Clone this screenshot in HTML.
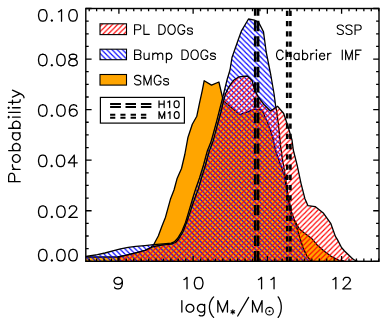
<!DOCTYPE html>
<html lang="en"><head><meta charset="utf-8"><title>Stellar mass probability distributions</title>
<style>
html,body{margin:0;padding:0;background:#fff;}
svg{display:block;font-family:"Liberation Sans",sans-serif;}
.t{fill:none;stroke:#000;stroke-linecap:round;stroke-linejoin:round;}
</style></head><body>
<svg width="390" height="325" viewBox="0 0 390 325" role="img" aria-label="Probability versus log(M*/Msun) for PL DOGs, Bump DOGs and SMGs; SSP, Chabrier IMF; H10 and M10 reference lines">
<desc>Probability (0.00 to 0.10) versus log(M*/M_sun) (9 to 12). Legend: PL DOGs, Bump DOGs, SMGs, H10, M10. SSP, Chabrier IMF.</desc>
<defs>
<pattern id="hr" x="0.76" y="0.0" width="5.17" height="5.17" patternUnits="userSpaceOnUse"><path d="M-5.17,10.34L10.34,-5.17M-5.17,5.17L5.17,-5.17M0,10.34L10.34,0" stroke="#ff0000" stroke-width="1.15" fill="none"/></pattern>
<pattern id="hb" x="0.8" y="0.0" width="5.2" height="5.2" patternUnits="userSpaceOnUse"><path d="M-5.2,-5.2L10.4,10.4M0,-5.2L10.4,5.2M-5.2,0L5.2,10.4" stroke="#0000ff" stroke-width="1.15" fill="none"/></pattern>
<pattern id="hrl" x="1.0" y="0.0" width="5.23" height="5.23" patternUnits="userSpaceOnUse"><path d="M-5.23,10.46L10.46,-5.23M-5.23,5.23L5.23,-5.23M0,10.46L10.46,0" stroke="#ff0000" stroke-width="1.15" fill="none"/></pattern>
<pattern id="hbl" x="4.8" y="0.0" width="5.23" height="5.23" patternUnits="userSpaceOnUse"><path d="M-5.23,-5.23L10.46,10.46M0,-5.23L10.46,5.23M-5.23,0L5.23,10.46" stroke="#0000ff" stroke-width="1.15" fill="none"/></pattern>
</defs>
<rect x="0" y="0" width="390" height="325" fill="#ffffff"/>
<polygon points="85.8,261.3 85.8,257.0 118.0,257.0 125.5,255.4 135.8,252.8 145.0,250.3 150.0,248.0 153.5,245.0 158.3,236.0 162.0,226.0 165.5,217.2 170.6,198.7 174.0,190.0 177.2,178.2 181.5,168.5 184.8,154.5 188.0,137.2 192.3,124.3 196.8,116.2 199.5,103.2 202.3,90.3 204.2,80.7 211.5,85.1 218.9,82.0 223.3,100.8 240.0,114.7 254.7,109.2 262.0,110.0 267.3,121.7 272.4,136.0 276.0,152.0 284.4,175.6 288.2,201.0 292.0,219.0 294.8,220.7 299.4,229.0 304.0,232.7 311.4,238.2 316.9,244.7 324.3,251.2 331.7,256.7 339.0,260.4 344.0,260.9 344.0,261.3" fill="#ffa500"/>
<polyline points="85.8,257.0 118.0,257.0 125.5,255.4 135.8,252.8 145.0,250.3 150.0,248.0 153.5,245.0 158.3,236.0 162.0,226.0 165.5,217.2 170.6,198.7 174.0,190.0 177.2,178.2 181.5,168.5 184.8,154.5 188.0,137.2 192.3,124.3 196.8,116.2 199.5,103.2 202.3,90.3 204.2,80.7 211.5,85.1 218.9,82.0 223.3,100.8 240.0,114.7 254.7,109.2 262.0,110.0 267.3,121.7 272.4,136.0 276.0,152.0 284.4,175.6 288.2,201.0 292.0,219.0 294.8,220.7 299.4,229.0 304.0,232.7 311.4,238.2 316.9,244.7 324.3,251.2 331.7,256.7 339.0,260.4 344.0,260.9" fill="none" stroke="#000" stroke-width="1.3" stroke-linejoin="round"/>
<polygon points="85.8,261.3 85.8,256.5 97.4,254.7 105.0,253.0 112.8,250.8 120.5,248.8 128.2,247.4 135.8,246.4 145.0,245.6 153.5,244.7 163.5,243.9 171.2,243.2 174.2,241.9 177.7,238.3 182.0,231.1 185.5,222.5 188.1,213.9 190.7,205.2 193.2,196.6 195.8,188.5 199.5,178.0 203.5,165.0 207.3,151.0 211.0,141.8 213.8,131.7 216.6,121.5 219.4,110.5 221.8,101.2 223.7,93.5 227.2,79.2 230.0,70.0 232.0,57.5 238.5,39.0 241.5,30.8 248.5,19.0 254.4,20.1 258.5,22.0 263.5,31.9 264.6,40.0 266.2,52.0 270.8,75.0 274.0,93.5 275.5,105.0 276.8,112.0 278.6,125.8 280.6,146.3 282.7,160.6 284.4,170.5 288.2,196.0 291.5,212.0 295.7,223.5 299.4,236.4 303.0,247.5 306.8,255.8 310.5,260.4 312.0,260.9 312.0,261.3" fill="url(#hb)"/>
<polyline points="85.8,256.5 97.4,254.7 105.0,253.0 112.8,250.8 120.5,248.8 128.2,247.4 135.8,246.4 145.0,245.6 153.5,244.7 163.5,243.9 171.2,243.2 174.2,241.9 177.7,238.3 182.0,231.1 185.5,222.5 188.1,213.9 190.7,205.2 193.2,196.6 195.8,188.5 199.5,178.0 203.5,165.0 207.3,151.0 211.0,141.8 213.8,131.7 216.6,121.5 219.4,110.5 221.8,101.2 223.7,93.5 227.2,79.2 230.0,70.0 232.0,57.5 238.5,39.0 241.5,30.8 248.5,19.0 254.4,20.1 258.5,22.0 263.5,31.9 264.6,40.0 266.2,52.0 270.8,75.0 274.0,93.5 275.5,105.0 276.8,112.0 278.6,125.8 280.6,146.3 282.7,160.6 284.4,170.5 288.2,196.0 291.5,212.0 295.7,223.5 299.4,236.4 303.0,247.5 306.8,255.8 310.5,260.4 312.0,260.9" fill="none" stroke="#000" stroke-width="1.3" stroke-linejoin="round"/>
<polygon points="118.0,261.3 118.0,260.9 118.0,257.0 125.5,255.4 135.8,252.8 145.0,250.3 153.5,246.5 163.5,244.9 171.2,244.2 175.5,242.5 178.6,239.2 182.9,232.0 186.3,223.3 189.0,215.6 191.8,207.0 194.8,198.3 198.3,189.0 201.5,178.0 205.5,165.0 209.3,151.0 212.9,141.8 215.6,131.7 218.4,121.5 221.0,112.0 222.8,104.0 225.4,94.0 229.0,86.6 233.7,80.2 239.0,76.8 247.3,76.0 252.0,80.5 254.7,89.8 258.4,97.2 264.0,104.5 270.4,111.0 277.7,106.3 283.7,113.5 287.8,125.8 292.0,140.0 293.3,150.0 297.2,165.4 301.0,183.3 304.9,198.7 308.0,205.7 315.1,206.6 323.6,213.3 330.7,223.3 335.4,236.4 337.7,240.1 341.5,247.5 344.5,251.0 351.5,257.8 353.5,259.5 357.5,261.3 357.5,261.3" fill="url(#hr)"/>
<polyline points="118.0,260.9 118.0,257.0 125.5,255.4 135.8,252.8 145.0,250.3 153.5,246.5 163.5,244.9 171.2,244.2 175.5,242.5 178.6,239.2 182.9,232.0 186.3,223.3 189.0,215.6 191.8,207.0 194.8,198.3 198.3,189.0 201.5,178.0 205.5,165.0 209.3,151.0 212.9,141.8 215.6,131.7 218.4,121.5 221.0,112.0 222.8,104.0 225.4,94.0 229.0,86.6 233.7,80.2 239.0,76.8 247.3,76.0 252.0,80.5 254.7,89.8 258.4,97.2 264.0,104.5 270.4,111.0 277.7,106.3 283.7,113.5 287.8,125.8 292.0,140.0 293.3,150.0 297.2,165.4 301.0,183.3 304.9,198.7 308.0,205.7 315.1,206.6 323.6,213.3 330.7,223.3 335.4,236.4 337.7,240.1 341.5,247.5 344.5,251.0 351.5,257.8 353.5,259.5 357.5,261.3" fill="none" stroke="#000" stroke-width="1.3" stroke-linejoin="round"/>
<line x1="255.2" y1="8.5" x2="255.2" y2="261.3" stroke="#000" stroke-width="2.6" stroke-dasharray="10.34 5.0" stroke-dashoffset="3.04"/>
<line x1="258.1" y1="8.5" x2="258.1" y2="261.3" stroke="#000" stroke-width="2.6" stroke-dasharray="10.34 5.0" stroke-dashoffset="3.04"/>
<line x1="287.2" y1="8.5" x2="287.2" y2="261.3" stroke="#000" stroke-width="2.6" stroke-dasharray="5.2 5.05" stroke-dashoffset="7.95"/>
<line x1="290.4" y1="8.5" x2="290.4" y2="261.3" stroke="#000" stroke-width="2.6" stroke-dasharray="5.2 5.05" stroke-dashoffset="7.95"/>
<rect x="85.8" y="8.5" width="293.2" height="252.8" fill="none" stroke="#000" stroke-width="1.4"/>
<path d="M89.21,8.5v2.7M89.21,261.3v-2.7M96.63,8.5v2.7M96.63,261.3v-2.7M104.06,8.5v2.7M104.06,261.3v-2.7M111.48,8.5v2.7M111.48,261.3v-2.7M118.90,8.5v5.2M118.90,261.3v-5.2M126.33,8.5v2.7M126.33,261.3v-2.7M133.75,8.5v2.7M133.75,261.3v-2.7M141.17,8.5v2.7M141.17,261.3v-2.7M148.59,8.5v2.7M148.59,261.3v-2.7M156.02,8.5v2.7M156.02,261.3v-2.7M163.44,8.5v2.7M163.44,261.3v-2.7M170.86,8.5v2.7M170.86,261.3v-2.7M178.28,8.5v2.7M178.28,261.3v-2.7M185.71,8.5v2.7M185.71,261.3v-2.7M193.13,8.5v5.2M193.13,261.3v-5.2M200.55,8.5v2.7M200.55,261.3v-2.7M207.98,8.5v2.7M207.98,261.3v-2.7M215.40,8.5v2.7M215.40,261.3v-2.7M222.82,8.5v2.7M222.82,261.3v-2.7M230.24,8.5v2.7M230.24,261.3v-2.7M237.67,8.5v2.7M237.67,261.3v-2.7M245.09,8.5v2.7M245.09,261.3v-2.7M252.51,8.5v2.7M252.51,261.3v-2.7M259.94,8.5v2.7M259.94,261.3v-2.7M267.36,8.5v5.2M267.36,261.3v-5.2M274.78,8.5v2.7M274.78,261.3v-2.7M282.20,8.5v2.7M282.20,261.3v-2.7M289.63,8.5v2.7M289.63,261.3v-2.7M297.05,8.5v2.7M297.05,261.3v-2.7M304.47,8.5v2.7M304.47,261.3v-2.7M311.89,8.5v2.7M311.89,261.3v-2.7M319.32,8.5v2.7M319.32,261.3v-2.7M326.74,8.5v2.7M326.74,261.3v-2.7M334.16,8.5v2.7M334.16,261.3v-2.7M341.59,8.5v5.2M341.59,261.3v-5.2M349.01,8.5v2.7M349.01,261.3v-2.7M356.43,8.5v2.7M356.43,261.3v-2.7M363.85,8.5v2.7M363.85,261.3v-2.7M371.28,8.5v2.7M371.28,261.3v-2.7M378.70,8.5v2.7M378.70,261.3v-2.7M85.8,261.30h5.8M379.0,261.30h-5.8M85.8,248.66h2.9M379.0,248.66h-2.9M85.8,236.02h2.9M379.0,236.02h-2.9M85.8,223.38h2.9M379.0,223.38h-2.9M85.8,210.74h5.8M379.0,210.74h-5.8M85.8,198.10h2.9M379.0,198.10h-2.9M85.8,185.46h2.9M379.0,185.46h-2.9M85.8,172.82h2.9M379.0,172.82h-2.9M85.8,160.18h5.8M379.0,160.18h-5.8M85.8,147.54h2.9M379.0,147.54h-2.9M85.8,134.90h2.9M379.0,134.90h-2.9M85.8,122.26h2.9M379.0,122.26h-2.9M85.8,109.62h5.8M379.0,109.62h-5.8M85.8,96.98h2.9M379.0,96.98h-2.9M85.8,84.34h2.9M379.0,84.34h-2.9M85.8,71.70h2.9M379.0,71.70h-2.9M85.8,59.06h5.8M379.0,59.06h-5.8M85.8,46.42h2.9M379.0,46.42h-2.9M85.8,33.78h2.9M379.0,33.78h-2.9M85.8,21.14h2.9M379.0,21.14h-2.9M85.8,8.50h5.8M379.0,8.50h-5.8" stroke="#000" stroke-width="1.3" fill="none"/>
<path class="t" d="M42.18,9.65L40.36,10.20L39.15,11.84L38.55,14.58L38.55,16.22L39.15,18.96L40.36,20.60L42.18,21.15L43.39,21.15L45.20,20.60L46.41,18.96L47.02,16.22L47.02,14.58L46.41,11.84L45.20,10.20L43.39,9.65L42.18,9.65M51.85,20.05L51.25,20.60L51.85,21.15L52.46,20.60L51.85,20.05M58.50,11.84L59.71,11.29L61.53,9.65L61.53,21.15M72.41,9.65L70.60,10.20L69.39,11.84L68.78,14.58L68.78,16.22L69.39,18.96L70.60,20.60L72.41,21.15L73.62,21.15L75.44,20.60L76.65,18.96L77.25,16.22L77.25,14.58L76.65,11.84L75.44,10.20L73.62,9.65L72.41,9.65M42.18,54.25L40.36,54.80L39.15,56.44L38.55,59.18L38.55,60.82L39.15,63.56L40.36,65.20L42.18,65.75L43.39,65.75L45.20,65.20L46.41,63.56L47.02,60.82L47.02,59.18L46.41,56.44L45.20,54.80L43.39,54.25L42.18,54.25M51.85,64.65L51.25,65.20L51.85,65.75L52.46,65.20L51.85,64.65M60.32,54.25L58.50,54.80L57.30,56.44L56.69,59.18L56.69,60.82L57.30,63.56L58.50,65.20L60.32,65.75L61.53,65.75L63.34,65.20L64.55,63.56L65.16,60.82L65.16,59.18L64.55,56.44L63.34,54.80L61.53,54.25L60.32,54.25M71.81,54.25L69.99,54.80L69.39,55.89L69.39,56.99L69.99,58.08L71.20,58.63L73.62,59.18L75.44,59.73L76.65,60.82L77.25,61.92L77.25,63.56L76.65,64.65L76.04,65.20L74.23,65.75L71.81,65.75L69.99,65.20L69.39,64.65L68.78,63.56L68.78,61.92L69.39,60.82L70.60,59.73L72.41,59.18L74.83,58.63L76.04,58.08L76.65,56.99L76.65,55.89L76.04,54.80L74.23,54.25L71.81,54.25M42.18,104.75L40.36,105.30L39.15,106.94L38.55,109.68L38.55,111.32L39.15,114.06L40.36,115.70L42.18,116.25L43.39,116.25L45.20,115.70L46.41,114.06L47.02,111.32L47.02,109.68L46.41,106.94L45.20,105.30L43.39,104.75L42.18,104.75M51.85,115.15L51.25,115.70L51.85,116.25L52.46,115.70L51.85,115.15M60.32,104.75L58.50,105.30L57.30,106.94L56.69,109.68L56.69,111.32L57.30,114.06L58.50,115.70L60.32,116.25L61.53,116.25L63.34,115.70L64.55,114.06L65.16,111.32L65.16,109.68L64.55,106.94L63.34,105.30L61.53,104.75L60.32,104.75M76.65,106.39L76.04,105.30L74.23,104.75L73.02,104.75L71.20,105.30L69.99,106.94L69.39,109.68L69.39,112.42L69.99,114.61L71.20,115.70L73.02,116.25L73.62,116.25L75.44,115.70L76.65,114.61L77.25,112.96L77.25,112.42L76.65,110.77L75.44,109.68L73.62,109.13L73.02,109.13L71.20,109.68L69.99,110.77L69.39,112.42M42.12,155.15L40.34,155.70L39.15,157.34L38.55,160.08L38.55,161.72L39.15,164.46L40.34,166.10L42.12,166.65L43.31,166.65L45.10,166.10L46.29,164.46L46.89,161.72L46.89,160.08L46.29,157.34L45.10,155.70L43.31,155.15L42.12,155.15M51.65,165.55L51.05,166.10L51.65,166.65L52.24,166.10L51.65,165.55M59.98,155.15L58.20,155.70L57.01,157.34L56.41,160.08L56.41,161.72L57.01,164.46L58.20,166.10L59.98,166.65L61.17,166.65L62.96,166.10L64.15,164.46L64.75,161.72L64.75,160.08L64.15,157.34L62.96,155.70L61.17,155.15L59.98,155.15M74.27,155.15L68.32,162.82L77.25,162.82M74.27,155.15L74.27,166.65M42.18,205.95L40.36,206.50L39.15,208.14L38.55,210.88L38.55,212.52L39.15,215.26L40.36,216.90L42.18,217.45L43.39,217.45L45.20,216.90L46.41,215.26L47.02,212.52L47.02,210.88L46.41,208.14L45.20,206.50L43.39,205.95L42.18,205.95M51.85,216.35L51.25,216.90L51.85,217.45L52.46,216.90L51.85,216.35M60.32,205.95L58.50,206.50L57.30,208.14L56.69,210.88L56.69,212.52L57.30,215.26L58.50,216.90L60.32,217.45L61.53,217.45L63.34,216.90L64.55,215.26L65.16,212.52L65.16,210.88L64.55,208.14L63.34,206.50L61.53,205.95L60.32,205.95M69.39,208.69L69.39,208.14L69.99,207.05L70.60,206.50L71.81,205.95L74.23,205.95L75.44,206.50L76.04,207.05L76.65,208.14L76.65,209.24L76.04,210.33L74.83,211.97L68.78,217.45L77.25,217.45M42.18,249.45L40.36,250.00L39.15,251.64L38.55,254.38L38.55,256.02L39.15,258.76L40.36,260.40L42.18,260.95L43.39,260.95L45.20,260.40L46.41,258.76L47.02,256.02L47.02,254.38L46.41,251.64L45.20,250.00L43.39,249.45L42.18,249.45M51.85,259.85L51.25,260.40L51.85,260.95L52.46,260.40L51.85,259.85M60.32,249.45L58.50,250.00L57.30,251.64L56.69,254.38L56.69,256.02L57.30,258.76L58.50,260.40L60.32,260.95L61.53,260.95L63.34,260.40L64.55,258.76L65.16,256.02L65.16,254.38L64.55,251.64L63.34,250.00L61.53,249.45L60.32,249.45M72.41,249.45L70.60,250.00L69.39,251.64L68.78,254.38L68.78,256.02L69.39,258.76L70.60,260.40L72.41,260.95L73.62,260.95L75.44,260.40L76.65,258.76L77.25,256.02L77.25,254.38L76.65,251.64L75.44,250.00L73.62,249.45L72.41,249.45M122.35,281.18L121.70,282.83L120.41,283.92L118.47,284.47L117.83,284.47L115.89,283.92L114.60,282.83L113.95,281.18L113.95,280.64L114.60,278.99L115.89,277.90L117.83,277.35L118.47,277.35L120.41,277.90L121.70,278.99L122.35,281.18L122.35,283.92L121.70,286.66L120.41,288.30L118.47,288.85L117.18,288.85L115.24,288.30L114.60,287.21M183.95,279.54L185.18,278.99L187.01,277.35L187.01,288.85M198.05,277.35L196.21,277.90L194.98,279.54L194.37,282.28L194.37,283.92L194.98,286.66L196.21,288.30L198.05,288.85L199.27,288.85L201.11,288.30L202.34,286.66L202.95,283.92L202.95,282.28L202.34,279.54L201.11,277.90L199.27,277.35L198.05,277.35M258.45,279.54L259.70,278.99L261.57,277.35L261.57,288.85M270.93,279.54L272.18,278.99L274.05,277.35L274.05,288.85M332.95,279.54L334.10,278.99L335.84,277.35L335.84,288.85M343.34,280.09L343.34,279.54L343.92,278.45L344.50,277.90L345.65,277.35L347.96,277.35L349.12,277.90L349.70,278.45L350.27,279.54L350.27,280.64L349.70,281.73L348.54,283.37L342.77,288.85L350.85,288.85" stroke-width="1.3" />
<path class="t" d="M0.65,-11.50L0.65,0.00M0.65,-11.50L5.93,-11.50L7.69,-10.95L8.28,-10.40L8.86,-9.31L8.86,-7.67L8.28,-6.57L7.69,-6.02L5.93,-5.48L0.65,-5.48M12.97,-7.67L12.97,0.00M12.97,-4.38L13.55,-6.02L14.73,-7.12L15.90,-7.67L17.66,-7.67M22.94,-7.67L21.77,-7.12L20.59,-6.02L20.01,-4.38L20.01,-3.29L20.59,-1.64L21.77,-0.55L22.94,0.00L24.70,0.00L25.87,-0.55L27.04,-1.64L27.63,-3.29L27.63,-4.38L27.04,-6.02L25.87,-7.12L24.70,-7.67L22.94,-7.67M31.74,-11.50L31.74,0.00M31.74,-6.02L32.91,-7.12L34.08,-7.67L35.84,-7.67L37.02,-7.12L38.19,-6.02L38.78,-4.38L38.78,-3.29L38.19,-1.64L37.02,-0.55L35.84,0.00L34.08,0.00L32.91,-0.55L31.74,-1.64M49.33,-7.67L49.33,0.00M49.33,-6.02L48.16,-7.12L46.99,-7.67L45.23,-7.67L44.05,-7.12L42.88,-6.02L42.29,-4.38L42.29,-3.29L42.88,-1.64L44.05,-0.55L45.23,0.00L46.99,0.00L48.16,-0.55L49.33,-1.64M54.03,-11.50L54.03,0.00M54.03,-6.02L55.20,-7.12L56.37,-7.67L58.13,-7.67L59.30,-7.12L60.48,-6.02L61.06,-4.38L61.06,-3.29L60.48,-1.64L59.30,-0.55L58.13,0.00L56.37,0.00L55.20,-0.55L54.03,-1.64M64.58,-11.50L65.17,-10.95L65.76,-11.50L65.17,-12.05L64.58,-11.50M65.17,-7.67L65.17,0.00M69.86,-11.50L69.86,0.00M73.97,-11.50L74.55,-10.95L75.14,-11.50L74.55,-12.05L73.97,-11.50M74.55,-7.67L74.55,0.00M79.83,-11.50L79.83,-2.19L80.42,-0.55L81.59,0.00L82.77,0.00M78.07,-7.67L82.18,-7.67M85.11,-7.67L88.63,0.00M92.15,-7.67L88.63,0.00L87.46,2.19L86.28,3.29L85.11,3.83L84.53,3.83" stroke-width="1.3" transform="translate(20.15,182.3) rotate(-90)"/>
<path class="t" d="M181.85,300.55L181.85,312.05M189.05,304.38L187.85,304.93L186.65,306.03L186.05,307.67L186.05,308.76L186.65,310.41L187.85,311.50L189.05,312.05L190.85,312.05L192.05,311.50L193.25,310.41L193.85,308.76L193.85,307.67L193.25,306.03L192.05,304.93L190.85,304.38L189.05,304.38M204.65,304.38L204.65,313.15L204.05,314.79L203.45,315.34L202.25,315.88L200.45,315.88L199.25,315.34M204.65,306.03L203.45,304.93L202.25,304.38L200.45,304.38L199.25,304.93L198.05,306.03L197.45,307.67L197.45,308.76L198.05,310.41L199.25,311.50L200.45,312.05L202.25,312.05L203.45,311.50L204.65,310.41M213.65,296.87L212.45,298.15L211.25,300.07L210.05,302.64L209.45,305.84L209.45,308.40L210.05,311.61L211.25,314.17L212.45,316.09L213.65,317.37M217.85,300.55L217.85,312.05M217.85,300.55L222.65,312.05M227.45,300.55L222.65,312.05M227.45,300.55L227.45,312.05M237.7,316.0L248.6,297.4M252.55,300.55L252.55,312.05M252.55,300.55L257.30,312.05M262.05,300.55L257.30,312.05M262.05,300.55L262.05,312.05M278.15,296.87L279.04,298.15L279.92,300.07L280.81,302.64L281.25,305.84L281.25,308.40L280.81,311.61L279.92,314.17L279.04,316.09L278.15,317.37" stroke-width="1.3" />
<path class="t" d="M232.80,309.74L232.80,314.06M231.00,310.82L234.60,312.98M234.60,310.82L231.00,312.98" stroke-width="1.1" />
<circle cx="269.5" cy="311.2" r="3.8" fill="none" stroke="#000" stroke-width="1.15"/><circle cx="269.5" cy="311.2" r="1.0" fill="#000"/>
<rect x="100.0" y="23.8" width="26.5" height="10.8" fill="url(#hrl)" stroke="#000" stroke-width="1.1"/>
<rect x="100.0" y="49.2" width="26.5" height="10.5" fill="url(#hbl)" stroke="#000" stroke-width="1.1"/>
<rect x="100.0" y="74.5" width="26.5" height="10.6" fill="#ffa500" stroke="#000" stroke-width="1.1"/>
<path class="t" d="M134.57,24.77L134.57,34.32M134.57,24.77L138.60,24.77L139.94,25.23L140.39,25.68L140.83,26.59L140.83,27.96L140.39,28.87L139.94,29.32L138.60,29.78L134.57,29.78M143.96,24.77L143.96,34.32M143.96,34.32L149.33,34.32M158.88,24.77L158.88,34.32M158.88,24.77L162.05,24.77L163.41,25.23L164.32,26.14L164.77,27.05L165.22,28.41L165.22,30.69L164.77,32.05L164.32,32.96L163.41,33.87L162.05,34.32L158.88,34.32M170.66,24.77L169.76,25.23L168.85,26.14L168.40,27.05L167.94,28.41L167.94,30.69L168.40,32.05L168.85,32.96L169.76,33.87L170.66,34.32L172.48,34.32L173.38,33.87L174.29,32.96L174.74,32.05L175.20,30.69L175.20,28.41L174.74,27.05L174.29,26.14L173.38,25.23L172.48,24.77L170.66,24.77M184.72,27.05L184.26,26.14L183.36,25.23L182.45,24.77L180.64,24.77L179.73,25.23L178.82,26.14L178.37,27.05L177.92,28.41L177.92,30.69L178.37,32.05L178.82,32.96L179.73,33.87L180.64,34.32L182.45,34.32L183.36,33.87L184.26,32.96L184.72,32.05L184.72,30.69M182.45,30.69L184.72,30.69M192.43,29.32L191.97,28.41L190.61,27.96L189.25,27.96L187.89,28.41L187.44,29.32L187.89,30.23L188.80,30.69L191.06,31.14L191.97,31.60L192.43,32.51L192.43,32.96L191.97,33.87L190.61,34.32L189.25,34.32L187.89,33.87L187.44,32.96M134.57,49.98L134.57,59.52M134.57,49.98L138.66,49.98L140.03,50.43L140.48,50.88L140.93,51.79L140.93,52.70L140.48,53.61L140.03,54.07L138.66,54.52M134.57,54.52L138.66,54.52L140.03,54.98L140.48,55.43L140.93,56.34L140.93,57.71L140.48,58.62L140.03,59.07L138.66,59.52L134.57,59.52M144.11,53.16L144.11,57.71L144.57,59.07L145.48,59.52L146.84,59.52L147.75,59.07L149.11,57.71M149.11,53.16L149.11,59.52M152.75,53.16L152.75,59.52M152.75,54.98L154.11,53.61L155.02,53.16L156.38,53.16L157.29,53.61L157.74,54.98L157.74,59.52M157.74,54.98L159.11,53.61L160.01,53.16L161.38,53.16L162.29,53.61L162.74,54.98L162.74,59.52M166.37,53.16L166.37,62.71M166.37,54.52L167.28,53.61L168.19,53.16L169.55,53.16L170.46,53.61L171.37,54.52L171.82,55.89L171.82,56.80L171.37,58.16L170.46,59.07L169.55,59.52L168.19,59.52L167.28,59.07L166.37,58.16M181.97,49.98L181.97,59.52M181.97,49.98L185.14,49.98L186.50,50.43L187.40,51.34L187.85,52.25L188.30,53.61L188.30,55.89L187.85,57.25L187.40,58.16L186.50,59.07L185.14,59.52L181.97,59.52M193.73,49.98L192.82,50.43L191.92,51.34L191.47,52.25L191.02,53.61L191.02,55.89L191.47,57.25L191.92,58.16L192.82,59.07L193.73,59.52L195.54,59.52L196.44,59.07L197.34,58.16L197.80,57.25L198.25,55.89L198.25,53.61L197.80,52.25L197.34,51.34L196.44,50.43L195.54,49.98L193.73,49.98M207.74,52.25L207.29,51.34L206.38,50.43L205.48,49.98L203.67,49.98L202.77,50.43L201.86,51.34L201.41,52.25L200.96,53.61L200.96,55.89L201.41,57.25L201.86,58.16L202.77,59.07L203.67,59.52L205.48,59.52L206.38,59.07L207.29,58.16L207.74,57.25L207.74,55.89M205.48,55.89L207.74,55.89M215.42,54.52L214.97,53.61L213.62,53.16L212.26,53.16L210.90,53.61L210.45,54.52L210.90,55.43L211.81,55.89L214.07,56.34L214.97,56.80L215.42,57.71L215.42,58.16L214.97,59.07L213.62,59.52L212.26,59.52L210.90,59.07L210.45,58.16M140.83,76.74L139.94,75.83L138.60,75.38L136.81,75.38L135.47,75.83L134.57,76.74L134.57,77.65L135.02,78.56L135.47,79.01L136.36,79.47L139.04,80.38L139.94,80.83L140.38,81.29L140.83,82.20L140.83,83.56L139.94,84.47L138.60,84.92L136.81,84.92L135.47,84.47L134.57,83.56M143.96,75.38L143.96,84.92M143.96,75.38L147.53,84.92M151.10,75.38L147.53,84.92M151.10,75.38L151.10,84.92M160.93,77.65L160.48,76.74L159.59,75.83L158.70,75.38L156.91,75.38L156.02,75.83L155.12,76.74L154.68,77.65L154.23,79.01L154.23,81.29L154.68,82.65L155.12,83.56L156.02,84.47L156.91,84.92L158.70,84.92L159.59,84.47L160.48,83.56L160.93,82.65L160.93,81.29M158.70,81.29L160.93,81.29M168.52,79.92L168.08,79.01L166.74,78.56L165.40,78.56L164.06,79.01L163.61,79.92L164.06,80.83L164.95,81.29L167.18,81.74L168.08,82.20L168.52,83.11L168.52,83.56L168.08,84.47L166.74,84.92L165.40,84.92L164.06,84.47L163.61,83.56M343.35,26.34L342.48,25.43L341.18,24.98L339.44,24.98L338.14,25.43L337.27,26.34L337.27,27.25L337.71,28.16L338.14,28.61L339.01,29.07L341.61,29.98L342.48,30.43L342.91,30.89L343.35,31.80L343.35,33.16L342.48,34.07L341.18,34.52L339.44,34.52L338.14,34.07L337.27,33.16M352.02,26.34L351.15,25.43L349.85,24.98L348.12,24.98L346.81,25.43L345.95,26.34L345.95,27.25L346.38,28.16L346.81,28.61L347.68,29.07L350.28,29.98L351.15,30.43L351.58,30.89L352.02,31.80L352.02,33.16L351.15,34.07L349.85,34.52L348.12,34.52L346.81,34.07L345.95,33.16M355.05,24.98L355.05,34.52M355.05,24.98L358.96,24.98L360.26,25.43L360.69,25.88L361.12,26.79L361.12,28.16L360.69,29.07L360.26,29.52L358.96,29.98L355.05,29.98M283.07,52.35L282.64,51.44L281.77,50.53L280.90,50.08L279.17,50.08L278.31,50.53L277.44,51.44L277.01,52.35L276.57,53.71L276.57,55.99L277.01,57.35L277.44,58.26L278.31,59.17L279.17,59.62L280.90,59.62L281.77,59.17L282.64,58.26L283.07,57.35M286.10,50.08L286.10,59.62M286.10,55.08L287.40,53.71L288.26,53.26L289.56,53.26L290.43,53.71L290.86,55.08L290.86,59.62M299.09,53.26L299.09,59.62M299.09,54.62L298.22,53.71L297.36,53.26L296.06,53.26L295.19,53.71L294.33,54.62L293.89,55.99L293.89,56.90L294.33,58.26L295.19,59.17L296.06,59.62L297.36,59.62L298.22,59.17L299.09,58.26M302.55,50.08L302.55,59.62M302.55,54.62L303.42,53.71L304.28,53.26L305.58,53.26L306.45,53.71L307.31,54.62L307.75,55.99L307.75,56.90L307.31,58.26L306.45,59.17L305.58,59.62L304.28,59.62L303.42,59.17L302.55,58.26M310.78,53.26L310.78,59.62M310.78,55.99L311.21,54.62L312.08,53.71L312.94,53.26L314.24,53.26M315.97,50.08L316.41,50.53L316.84,50.08L316.41,49.62L315.97,50.08M316.41,53.26L316.41,59.62M319.44,55.99L324.63,55.99L324.63,55.08L324.20,54.17L323.77,53.71L322.90,53.26L321.60,53.26L320.73,53.71L319.87,54.62L319.44,55.99L319.44,56.90L319.87,58.26L320.73,59.17L321.60,59.62L322.90,59.62L323.77,59.17L324.63,58.26M327.66,53.26L327.66,59.62M327.66,55.99L328.09,54.62L328.96,53.71L329.83,53.26L331.13,53.26M342.27,50.08L342.27,59.62M345.63,50.08L345.63,59.62M345.63,50.08L348.98,59.62M352.33,50.08L348.98,59.62M352.33,50.08L352.33,59.62M355.68,50.08L355.68,59.62M355.68,50.08L361.12,50.08M355.68,54.62L359.03,54.62" stroke-width="1.15" />
<rect x="100.4" y="97.4" width="84.0" height="25.7" fill="#fff" stroke="#000" stroke-width="1.2"/>
<path d="M110.1,103.9h10.8M125.5,103.9h10.5M140.9,103.9h10.5" stroke="#000" stroke-width="2.0"/>
<path d="M110.1,107.0h10.8M125.5,107.0h10.5M140.9,107.0h10.5" stroke="#000" stroke-width="2.0"/>
<path d="M110.1,114.7h5.2M120.4,114.7h5.1M130.6,114.7h5.4M140.9,114.7h5.4" stroke="#000" stroke-width="2.0"/>
<path d="M110.1,117.7h5.2M120.4,117.7h5.1M130.6,117.7h5.4M140.9,117.7h5.4" stroke="#000" stroke-width="2.0"/>
<path class="t" d="M159.03,100.92L159.03,107.58M164.15,100.92L164.15,107.58M159.03,104.09L164.15,104.09M167.82,102.19L168.55,101.88L169.65,100.92L169.65,107.58M176.24,100.92L175.15,101.24L174.41,102.19L174.05,103.78L174.05,104.73L174.41,106.31L175.15,107.26L176.24,107.58L176.98,107.58L178.08,107.26L178.81,106.31L179.18,104.73L179.18,103.78L178.81,102.19L178.08,101.24L176.98,100.92L176.24,100.92M159.03,111.72L159.03,118.38M159.03,111.72L161.85,118.38M164.68,111.72L161.85,118.38M164.68,111.72L164.68,118.38M168.22,112.99L168.92,112.67L169.98,111.72L169.98,118.38M176.35,111.72L175.29,112.04L174.58,112.99L174.23,114.58L174.23,115.53L174.58,117.11L175.29,118.06L176.35,118.38L177.05,118.38L178.11,118.06L178.82,117.11L179.18,115.53L179.18,114.58L178.82,112.99L178.11,112.04L177.05,111.72L176.35,111.72" stroke-width="1.25" />
</svg></body></html>
